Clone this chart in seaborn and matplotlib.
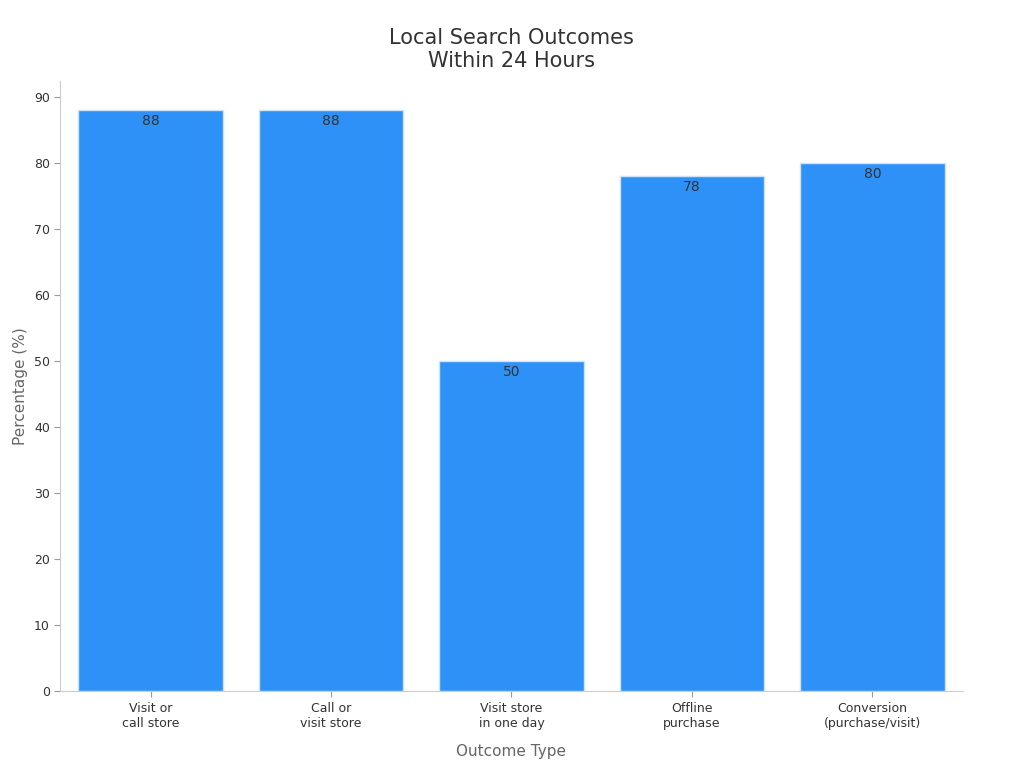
import matplotlib
matplotlib.use("Agg")
import matplotlib.pyplot as plt
import seaborn as sns
import pandas as pd

categories = ["Visit or\ncall store", "Call or\nvisit store", "Visit store\nin one day", "Offline\npurchase", "Conversion\n(purchase/visit)"]
values = [88, 88, 50, 78, 80]

sns.set_style("white")
plt.rcParams['font.family'] = ['DejaVu Sans']
df = pd.DataFrame({"cat": categories, "val": values})
fig, ax = plt.subplots(figsize=(10.24, 7.68), dpi=100)
sns.barplot(data=df, x="cat", y="val", color="#2E91F8", saturation=1, width=0.8,
            edgecolor="#cfe3f7", linewidth=1, ax=ax)
for i, v in enumerate(values):
    ax.text(i, v - 0.6, str(v), ha="center", va="top", fontsize=10, color="#333333")
ax.set_ylim(0, 92.5)
ax.set_xlim(-0.5, 4.5)
ax.set_yticks(range(0, 91, 10))
ax.set_title("Local Search Outcomes\nWithin 24 Hours", fontsize=15, color="#333333", pad=10)
ax.set_xlabel("Outcome Type", fontsize=11, color="#666666", labelpad=10)
ax.set_ylabel("Percentage (%)", fontsize=11, color="#666666")
ax.tick_params(axis="both", labelsize=9, colors="#333333", length=4, left=True, bottom=True)
ax.tick_params(axis="both", color="#999999")
sns.despine(ax=ax)
for s in ["left", "bottom"]:
    ax.spines[s].set_color("#cccccc")
plt.subplots_adjust(left=0.059, right=0.94, top=0.895, bottom=0.1)
fig.savefig("out.png", dpi=100)
